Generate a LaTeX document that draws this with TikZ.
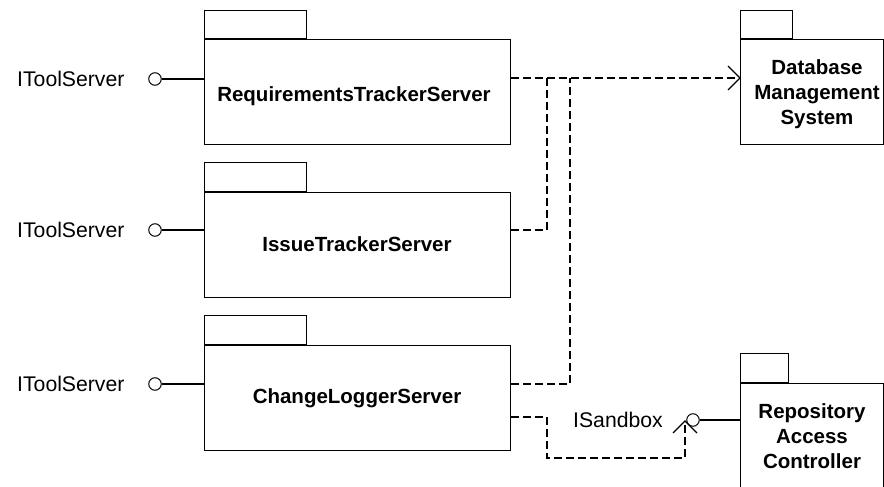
\documentclass[tikz,border=0pt]{standalone}
\usepackage{fontspec}
\setmainfont{Liberation Sans}
\tikzset{
  pkgbody/.style={draw, rectangle, line width=1.4pt, inner sep=0pt, anchor=north west},
  pkgtab/.style={draw, rectangle, line width=1.4pt, inner sep=0pt, anchor=south west},
  pkgname/.style={font=\fontsize{20.5}{25}\selectfont\bfseries, inner sep=0pt, align=center},
  iflabel/.style={font=\fontsize{21.2}{25}\selectfont, inner sep=0pt, anchor=base west},
  lolli/.style={draw, circle, line width=1pt, minimum size=12.5pt, inner sep=0pt},
  ifline/.style={line width=1.2pt},
  dep/.style={line width=1.2pt, dash pattern=on 8pt off 4pt},
  openhead/.style={line width=1.2pt, line join=miter}
}
\begin{document}
\begin{tikzpicture}[x=1pt, y=-1pt]
\clip (0,0) rectangle (884,487);
\fill[white] (0,0) rectangle (884,487);

% server packages
\node[pkgbody, minimum width=306pt, minimum height=105pt] (rts) at (204,39) {};
\node[pkgtab, minimum width=102pt, minimum height=28pt] (rtsTab) at (rts.north west) {};
\node[pkgname, anchor=base] (rtsName) at (354,101) {RequirementsTrackerServer};

\node[pkgbody, minimum width=306pt, minimum height=105pt] (its) at (204,192) {};
\node[pkgtab, minimum width=102pt, minimum height=29pt] (itsTab) at (its.north west) {};
\node[pkgname, anchor=base] (itsName) at (357,251) {IssueTrackerServer};

\node[pkgbody, minimum width=306pt, minimum height=105pt] (cls) at (204,345) {};
\node[pkgtab, minimum width=102pt, minimum height=29pt] (clsTab) at (cls.north west) {};
\node[pkgname, anchor=base] (clsName) at (357,403) {ChangeLoggerServer};

% database package
\node[pkgbody, minimum width=143pt, minimum height=105pt] (db) at (740,39) {};
\node[pkgtab, minimum width=52pt, minimum height=28pt] (dbTab) at (db.north west) {};
\node[pkgname] (dbName) at (817,94) {Database\\Management\\System};

% repository package
\node[pkgbody, minimum width=143pt, minimum height=120pt] (rac) at (740,383) {};
\node[pkgtab, minimum width=48pt, minimum height=29pt] (racTab) at (rac.north west) {};
\node[pkgname] (racName) at (812,436) {Repository\\Access\\Controller};

% provided interfaces
\node[lolli] (rtsIf) at (155,79) {};
\node[iflabel] (rtsIfName) at (17,86) {IToolServer};
\draw[ifline] (rtsIf.east) -- (rtsIf.east -| rts.west);

\node[lolli] (itsIf) at (155,230) {};
\node[iflabel] (itsIfName) at (17,237) {IToolServer};
\draw[ifline] (itsIf.east) -- (itsIf.east -| its.west);

\node[lolli] (clsIf) at (155,384) {};
\node[iflabel] (clsIfName) at (17,391) {IToolServer};
\draw[ifline] (clsIf.east) -- (clsIf.east -| cls.west);

\node[lolli] (sbIf) at (693,420) {};
\node[iflabel] (sbIfName) at (573,427) {ISandbox};
\draw[ifline] (sbIf.east) -- (sbIf.east -| rac.west);

% dependencies on the database
\coordinate (j1) at (547,78);
\coordinate (j2) at (570,78);
\coordinate (dbTip) at (db.west |- j1);
\draw[dep] (rts.east |- j1) -- (dbTip);
\draw[openhead] (dbTip) ++(-12,-12) -- (dbTip) -- ++(-12,12);
\draw[dep] (its.east |- itsIf) -- (j1 |- itsIf) -- (j1);
\draw[dep] (cls.east |- clsIf) -- (j2 |- clsIf) -- (j2);

% required sandbox interface
\coordinate (s1) at (547,417);
\coordinate (s2) at (547,458);
\coordinate (sb) at (685,421);
\draw[dep] (cls.east |- s1) -- (s1) -- (s2) -- (s2 -| sb) -- (sb);
\draw[openhead] (sb) ++(-12,12) -- (sb) -- ++(12,12);
\end{tikzpicture}
\end{document}
